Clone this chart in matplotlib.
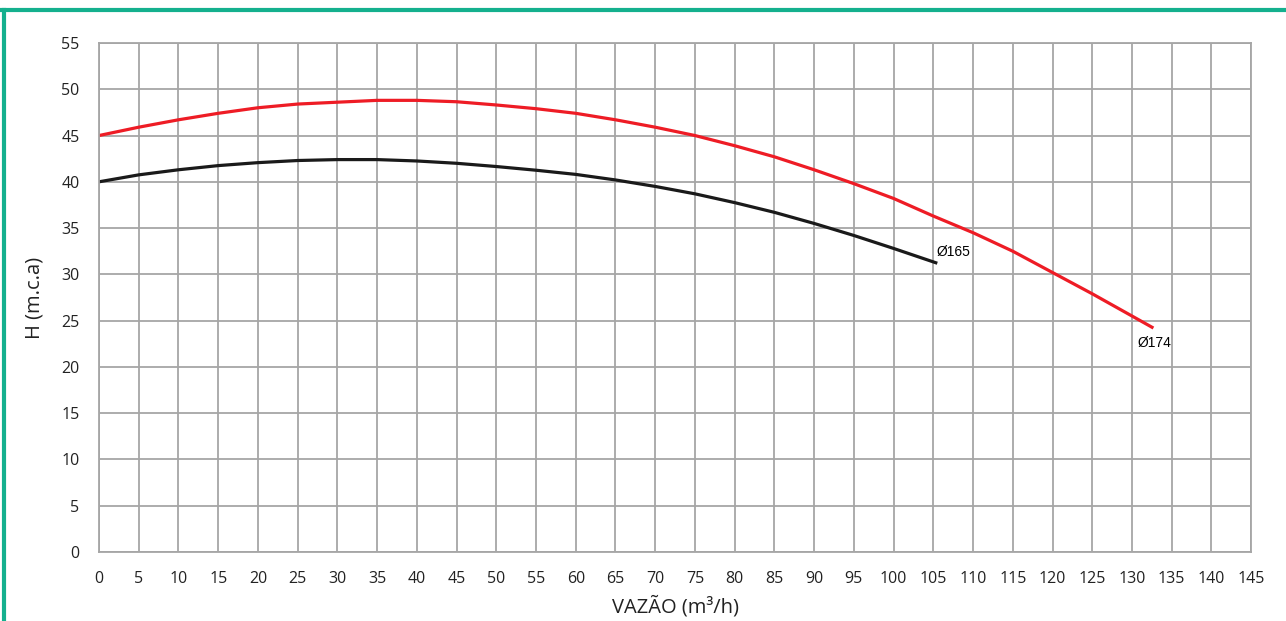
import matplotlib
matplotlib.use("Agg")
import matplotlib.pyplot as plt
from matplotlib.lines import Line2D

# flow (m3/h) and head (m.c.a)
q_165 = [0, 5, 10, 15, 20, 25, 30, 35, 40, 45, 50, 55, 60, 65, 70, 75, 80, 85, 90, 95, 100, 105.5]
h_165 = [40, 40.75, 41.3, 41.75, 42.07, 42.3, 42.4, 42.4, 42.25, 42.0, 41.65, 41.25, 40.8, 40.2,
         39.5, 38.7, 37.75, 36.7, 35.5, 34.2, 32.8, 31.2]

q_174 = [0, 5, 10, 15, 20, 25, 30, 35, 40, 45, 50, 55, 60, 65, 70, 75, 80, 85, 90, 95, 100, 105,
         110, 115, 120, 125, 130, 132.7]
h_174 = [45, 45.9, 46.7, 47.4, 48.0, 48.4, 48.6, 48.8, 48.8, 48.65, 48.3, 47.9, 47.4, 46.7, 45.9,
         45.0, 43.9, 42.7, 41.3, 39.8, 38.2, 36.3, 34.5, 32.5, 30.2, 27.9, 25.5, 24.2]

x_ticks = list(range(0, 150, 5))
y_ticks = list(range(0, 60, 5))

plt.rcParams["font.family"] = ["Open Sans", "DejaVu Sans"]

fig = plt.figure(figsize=(12.86, 6.21), dpi=100)
ax = fig.add_axes([0.077, 0.1111, 0.8959, 0.8197])

ax.plot(q_165, h_165, color="#1a1a1a", lw=2.3, solid_capstyle="butt")
ax.plot(q_174, h_174, color="#ee1c25", lw=2.3, solid_capstyle="butt")

ax.text(q_165[-1] - 0.1, h_165[-1] + 0.5, "Ø165", fontsize=10, family="Liberation Sans", ha="left", va="bottom")
ax.text(q_174[-1] + 0.1, h_174[-1] - 0.9, "Ø174", fontsize=10, family="Liberation Sans", ha="center", va="top")

ax.set_xlim(0, 145)
ax.set_ylim(0, 55)
ax.set_xticks(x_ticks)
ax.set_yticks(y_ticks)
ax.grid(True, color="#a6a6a6", lw=1.3)
ax.set_axisbelow(True)
for s in ax.spines.values():
    s.set_color("#a6a6a6")
    s.set_linewidth(1.3)
ax.tick_params(length=0, labelsize=11.5, colors="#222222")
ax.tick_params(axis="x", pad=14)
ax.tick_params(axis="y", pad=14)
ax.set_xlabel("VAZÃO (m³/h)", fontsize=14.5, color="#222222", labelpad=6)
ax.set_ylabel("H (m.c.a)", fontsize=14.5, color="#222222", labelpad=12)

# green frame on top and left edge
green = "#14b08e"
fig.add_artist(Line2D([3.5 / 1286, 3.5 / 1286], [0, 1 - 10 / 621], transform=fig.transFigure, color=green, lw=3))
fig.add_artist(Line2D([2 / 1286, 1], [1 - 10 / 621, 1 - 10 / 621], transform=fig.transFigure, color=green, lw=3))

fig.savefig("out.png", dpi=100)
